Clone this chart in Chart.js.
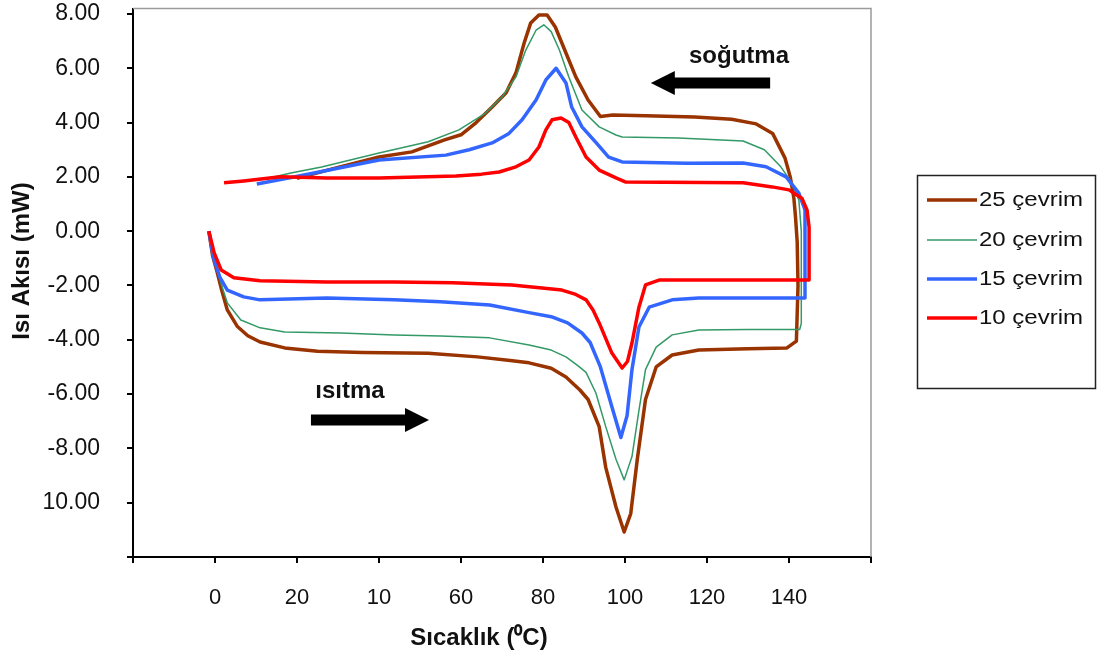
<!DOCTYPE html>
<html><head><meta charset="utf-8">
<script src="https://cdn.jsdelivr.net/npm/chart.js@4.4.1/dist/chart.umd.min.js"></script>
<style>html,body{margin:0;padding:0;background:#fff;}#wrap{width:1101px;height:658px;position:relative;}</style>
</head><body><div id="wrap"><canvas id="c" width="1101" height="658"></canvas></div>
<script>
// ---- data ----
const seriesLabels = ['25 çevrim', '20 çevrim', '15 çevrim', '10 çevrim'];
const xTickValues = [-20, 0, 20, 40, 60, 80, 100, 120, 140, 160];
const xTickLabels = ['', '0', '20', '10', '60', '80', '100', '120', '140', ''];
const yTickValues = [-12, -10, -8, -6, -4, -2, 0, 2, 4, 6, 8];
const yTickLabels = ['', '10.00', '-8.00', '-6.00', '-4.00', '-2.00', '0.00', '2.00', '4.00', '6.00', '8.00'];
const xTitle = 'Sıcaklık (⁰C)';
const yTitle = 'Isı Akısı (mW)';
const coolLabel = 'soğutma';
const heatLabel = 'ısıtma';

const cycle25 = [[-1.5,0],[-0.6,-0.9],[0.5,-1.5],[1.5,-2.1],[3,-2.9],[5.4,-3.5],[8,-3.85],[11,-4.08],[17,-4.3],[25,-4.42],[36,-4.47],[52,-4.5],[64,-4.63],[72,-4.76],[76.6,-4.85],[82,-5.05],[85.6,-5.37],[89,-5.85],[91,-6.2],[93.7,-7.2],[95.3,-8.7],[97.8,-10.16],[99.8,-11.08],[101.4,-10.4],[103,-8.4],[105,-6.2],[107.6,-5.0],[111.5,-4.56],[118,-4.38],[130,-4.33],[139.5,-4.3],[141.8,-4.05],[142.2,-2.0],[142,-0.4],[141.6,0.5],[141.2,1.2],[140.3,2.0],[139,2.7],[136,3.6],[132,3.95],[126,4.12],[117,4.2],[105,4.25],[97,4.28],[94,4.22],[91,4.83],[88,5.68],[85.6,6.56],[83,7.52],[81,7.96],[79,7.96],[77,7.67],[75.4,6.93],[73.4,5.83],[71,5.1],[67.6,4.57],[63.7,4.0],[60,3.55],[56,3.36],[48,2.92],[40,2.73],[30,2.35],[20,1.95]];
const cycle20 = [[-1.5,0],[-0.6,-0.9],[0.5,-1.35],[1.5,-1.95],[3,-2.64],[6.3,-3.27],[11,-3.56],[17,-3.71],[30.7,-3.75],[43.7,-3.82],[55,-3.86],[67,-3.93],[76.6,-4.19],[82,-4.38],[85.6,-4.63],[88.5,-4.95],[90.5,-5.2],[92.9,-5.96],[95.3,-7.2],[97.8,-8.4],[99.8,-9.16],[101.7,-8.3],[103.4,-6.6],[105,-5.1],[107.6,-4.27],[111.5,-3.82],[118,-3.64],[130,-3.62],[142.6,-3.62],[143,-3.4],[143,0],[142.4,1.15],[140.7,1.78],[138,2.37],[134,3.0],[128.8,3.32],[113,3.43],[99.3,3.47],[97.8,3.54],[93.7,3.84],[89.5,4.46],[86.3,5.68],[84,6.67],[82,7.35],[80.2,7.6],[78.3,7.4],[75.8,6.67],[73.4,5.68],[70,4.94],[66,4.35],[59.5,3.73],[52,3.29],[40,2.88],[26,2.36],[18.5,2.14],[13,1.95]];
const cycle15 = [[-1.5,0],[-0.6,-0.8],[-0.2,-1.06],[1.2,-1.7],[3,-2.17],[7,-2.42],[11,-2.53],[27.3,-2.46],[43.7,-2.53],[55,-2.6],[67,-2.72],[76.6,-3.0],[82,-3.15],[86,-3.38],[89.5,-3.75],[91.5,-4.1],[94,-5.0],[96.8,-6.47],[99,-7.6],[100.5,-6.8],[101.7,-5.1],[103.4,-3.53],[105.9,-2.8],[111.5,-2.53],[118,-2.46],[143.9,-2.46],[143.9,0.78],[142.4,1.4],[139.3,2.0],[134.4,2.37],[128.8,2.51],[115,2.5],[99.3,2.55],[96,2.73],[93,3.25],[89.5,3.84],[87,4.57],[85.6,5.46],[83.2,6.0],[80.7,5.57],[78.3,4.83],[74.9,4.1],[71.7,3.6],[67.6,3.25],[62,3.0],[56.3,2.8],[40,2.62],[20.5,2.03],[10.2,1.74]];
const cycle10 = [[-1.5,0],[-0.2,-0.8],[1.5,-1.43],[4.6,-1.72],[11,-1.83],[27.3,-1.87],[43.7,-1.87],[58,-1.9],[72.4,-1.98],[84.6,-2.17],[88,-2.33],[90.5,-2.53],[92.2,-2.9],[93.7,-3.38],[96.8,-4.49],[99.3,-5.04],[100.6,-4.8],[101.7,-4.12],[103.4,-2.8],[105,-1.98],[108.3,-1.8],[144.9,-1.8],[144.9,0.15],[144.4,0.78],[143.2,1.2],[140,1.52],[135.9,1.63],[128.8,1.78],[100.2,1.81],[97.8,1.96],[93.7,2.25],[90.5,2.73],[88,3.47],[86.3,4.0],[84.4,4.17],[82.2,4.1],[80.7,3.73],[79,3.1],[76.6,2.62],[73.4,2.37],[69.3,2.18],[65,2.1],[58.8,2.03],[40,1.96],[27.3,1.96],[16,2.0],[7,1.85],[2.2,1.78]];

// annotation anchors in data units
const coolText = [127.8, 6.42];
const coolArrow = [135.4, 106.3, 5.46]; // tail x, tip x, y
const heatText = [32.9, -5.89];
const heatArrow = [23.4, 52.2, -6.95];

const colors = ['#993300', '#339966', '#3366FF', '#FF0000'];
const widths = [3.5, 1.5, 3.5, 3.5];
const allSeries = [cycle25, cycle20, cycle15, cycle10];

function stretchText(ctx, str, x, y, sx, align) {
  ctx.save();
  ctx.translate(x, y);
  ctx.scale(sx, 1);
  ctx.textAlign = align || 'center';
  ctx.fillText(str, 0, 0);
  ctx.restore();
}

function arrow(ctx, x0, x1, y, shaft, headLen, headHalf) {
  const dir = Math.sign(x1 - x0);
  const hb = x1 - dir * headLen;
  ctx.beginPath();
  ctx.moveTo(x0, y - shaft / 2);
  ctx.lineTo(hb, y - shaft / 2);
  ctx.lineTo(hb, y - headHalf);
  ctx.lineTo(x1, y);
  ctx.lineTo(hb, y + headHalf);
  ctx.lineTo(hb, y + shaft / 2);
  ctx.lineTo(x0, y + shaft / 2);
  ctx.closePath();
  ctx.fill();
}

const decor = {
  id: 'decor',
  beforeDatasetsDraw(chart) {
    const {ctx, chartArea: a} = chart;
    ctx.save();
    ctx.strokeStyle = '#9a9a9a';
    ctx.lineWidth = 1.5;
    ctx.beginPath();
    ctx.moveTo(a.left, a.top); ctx.lineTo(a.right, a.top); ctx.lineTo(a.right, a.bottom);
    ctx.stroke();
    ctx.restore();
  },
  afterDraw(chart) {
    const {ctx} = chart;
    const xs = chart.scales.x, ys = chart.scales.y;
    ctx.save();
    ctx.fillStyle = '#111';
    ctx.textBaseline = 'middle';
    // axis titles
    ctx.font = 'bold 24px "Liberation Sans", Arial, sans-serif';
    stretchText(ctx, xTitle, 479, 638, 1.0, 'center');
    ctx.save();
    ctx.translate(22, 261);
    ctx.rotate(-Math.PI / 2);
    ctx.textAlign = 'center';
    ctx.fillText(yTitle, 0, 0);
    ctx.restore();
    // annotations
    stretchText(ctx, coolLabel, xs.getPixelForValue(coolText[0]), ys.getPixelForValue(coolText[1]), 1.0, 'center');
    stretchText(ctx, heatLabel, xs.getPixelForValue(heatText[0]), ys.getPixelForValue(heatText[1]), 1.0, 'center');
    ctx.fillStyle = '#000';
    arrow(ctx, xs.getPixelForValue(coolArrow[0]), xs.getPixelForValue(coolArrow[1]), ys.getPixelForValue(coolArrow[2]), 11, 24, 12);
    arrow(ctx, xs.getPixelForValue(heatArrow[0]), xs.getPixelForValue(heatArrow[1]), ys.getPixelForValue(heatArrow[2]), 11, 24, 12);
    // legend
    ctx.strokeStyle = '#222';
    ctx.lineWidth = 1.5;
    ctx.strokeRect(917.5, 175.5, 178, 213);
    ctx.font = '20px "Liberation Sans", Arial, sans-serif';
    const rows = [200, 240, 279, 318];
    chart.data.datasets.forEach((ds, i) => {
      ctx.strokeStyle = ds.borderColor;
      ctx.lineWidth = ds.borderWidth;
      ctx.beginPath();
      ctx.moveTo(927, rows[i]); ctx.lineTo(977, rows[i]);
      ctx.stroke();
      ctx.fillStyle = '#111';
      stretchText(ctx, ds.label, 979, rows[i], 1.2, 'left');
    });
    ctx.restore();
  }
};

new Chart(document.getElementById('c'), {
  type: 'scatter',
  data: {
    datasets: allSeries.map((s, i) => ({
      label: seriesLabels[i],
      data: s.map(p => ({x: p[0], y: p[1]})),
      showLine: true,
      borderColor: colors[i],
      backgroundColor: colors[i],
      borderWidth: widths[i],
      pointRadius: 0,
      tension: 0,
      borderJoinStyle: 'round',
      order: 4 - i
    }))
  },
  options: {
    responsive: false,
    animation: false,
    devicePixelRatio: 1,
    layout: {padding: {left: 0, right: 230, top: 8.5, bottom: 0}},
    plugins: {legend: {display: false}, tooltip: {enabled: false}},
    scales: {
      x: {
        type: 'linear', min: -20, max: 160,
        afterBuildTicks: s => { s.ticks = xTickValues.map(v => ({value: v})); },
        afterFit: s => { s.height = 101; s.paddingTop = 0; s.paddingBottom = 0; },
        border: {display: true, color: '#000', width: 2},
        grid: {drawOnChartArea: false, drawTicks: true, tickLength: 6, color: '#000', lineWidth: 2},
        ticks: {
          autoSkip: false, maxRotation: 0, padding: 22, color: '#111',
          font: {family: '"Liberation Sans", Arial, sans-serif', size: 22},
          callback: (v) => xTickLabels[xTickValues.indexOf(v)]
        }
      },
      y: {
        type: 'linear', min: -12, max: 8.2,
        afterBuildTicks: s => { s.ticks = yTickValues.map(v => ({value: v})); },
        afterFit: s => { s.width = 133; s.paddingTop = 0; s.paddingBottom = 0; },
        border: {display: true, color: '#000', width: 2},
        grid: {drawOnChartArea: false, drawTicks: true, tickLength: 6, color: '#000', lineWidth: 2},
        ticks: {
          autoSkip: false, padding: 27, color: '#111',
          font: {family: '"Liberation Sans", Arial, sans-serif', size: 23},
          callback: (v) => yTickLabels[yTickValues.indexOf(v)]
        }
      }
    }
  },
  plugins: [decor]
});
</script></body></html>
